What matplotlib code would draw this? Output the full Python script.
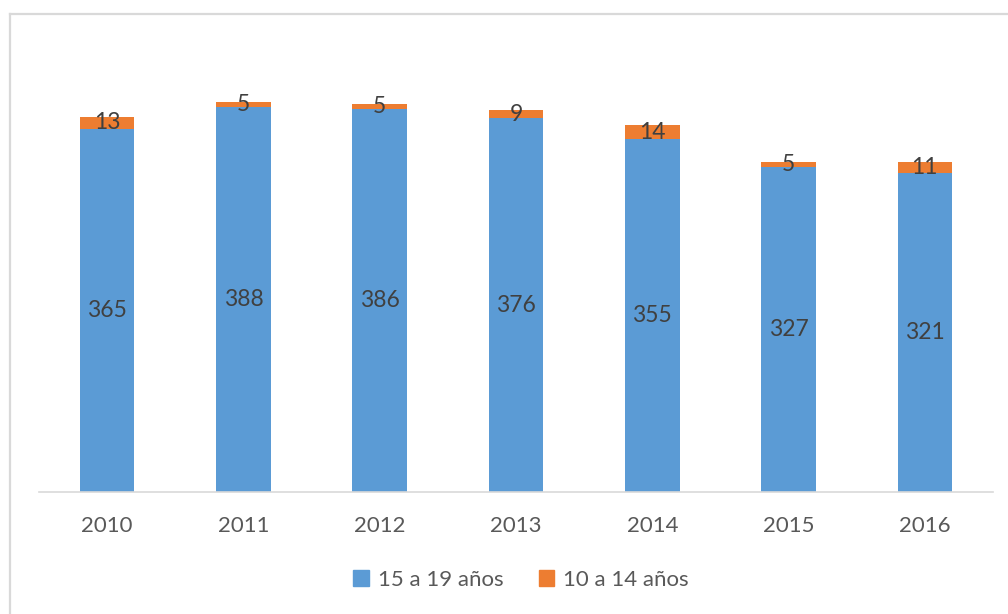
import matplotlib
matplotlib.use("Agg")
import matplotlib.pyplot as plt
from matplotlib.lines import Line2D
from matplotlib.patches import Patch

plt.rcParams['font.family'] = ['Lato', 'DejaVu Sans']

years = ['2010', '2011', '2012', '2013', '2014', '2015', '2016']
edad_15_19 = [365, 388, 386, 376, 355, 327, 321]
edad_10_14 = [13, 5, 5, 9, 14, 5, 11]
series_names = ['15 a 19 años', '10 a 14 años']

blue = '#5B9BD5'
orange = '#ED7D31'
label_color = '#404040'
tick_color = '#595959'

fig = plt.figure(figsize=(10.08, 6.14), dpi=100)
ax = fig.add_axes([39/1008, 1 - 492/614, (993-39)/1008, (492-43)/614])

x = list(range(len(years)))
w = 0.40
b1 = ax.bar(x, edad_15_19, width=w, color=blue, zorder=2)
b2 = ax.bar(x, edad_10_14, width=w, bottom=edad_15_19, color=orange, zorder=2)

ax.bar_label(b1, labels=[str(v) for v in edad_15_19], label_type='center',
             color=label_color, fontsize=16.5)
ax.bar_label(b2, labels=[str(v) for v in edad_10_14], label_type='center',
             color=label_color, fontsize=16.5)

ax.set_xlim(-0.5, len(years) - 0.5)
ax.set_ylim(0, 452)
ax.set_xticks(x)
ax.set_xticklabels(years, color=tick_color, fontsize=16)
ax.tick_params(axis='x', length=0, pad=17)
ax.set_yticks([])
for s in ['top', 'right', 'left']:
    ax.spines[s].set_visible(False)
ax.spines['bottom'].set_color('#D9D9D9')
ax.spines['bottom'].set_linewidth(1.2)

handles = [Patch(color=blue), Patch(color=orange)]
fig.legend(handles, series_names, loc='center', bbox_to_anchor=(521/1008, 1 - 580/614),
           ncol=2, frameon=False, fontsize=16, labelcolor=tick_color,
           handlelength=0.7, handleheight=0.7, handletextpad=0.4, columnspacing=1.6)

# chart area border (cropped: only top and left visible)
fig.add_artist(Line2D([9.5/1008, 9.5/1008], [0, 1 - 14/614], transform=fig.transFigure,
                      color='#D9D9D9', linewidth=1.6))
fig.add_artist(Line2D([9.5/1008, 1], [1 - 14/614, 1 - 14/614], transform=fig.transFigure,
                      color='#D9D9D9', linewidth=1.6))

fig.savefig('out.png', dpi=100)
